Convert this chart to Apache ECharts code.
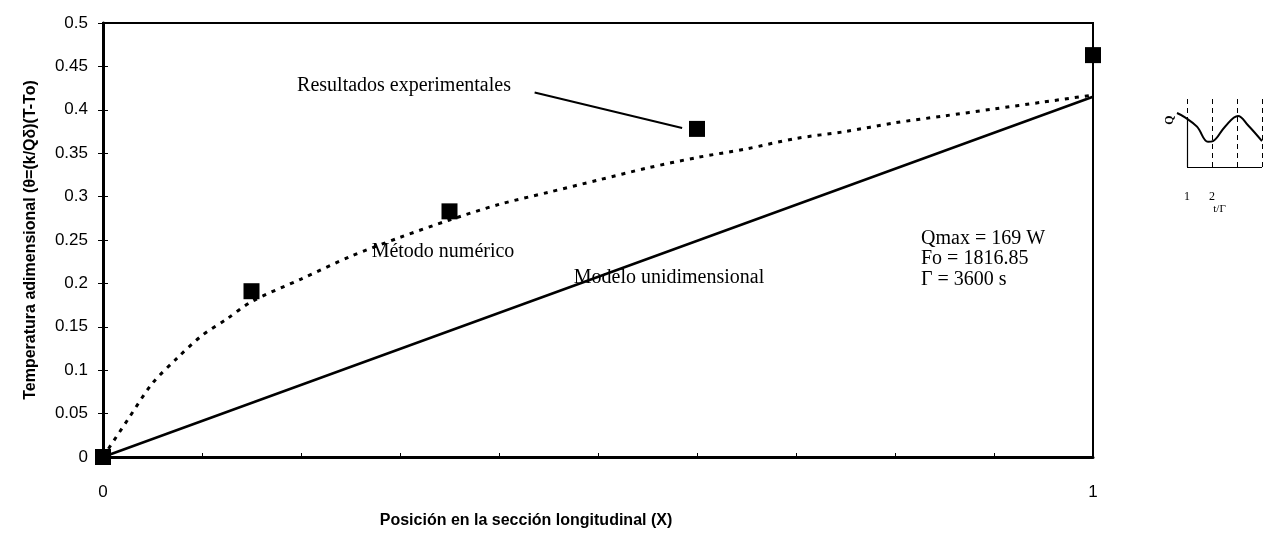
<!DOCTYPE html>
<html>
<head>
<meta charset="utf-8">
<script src="https://cdn.jsdelivr.net/npm/echarts@6.0.0/dist/echarts.min.js"></script>
<style>
  html, body { margin: 0; padding: 0; background: #fff; }
  #chart { width: 1272px; height: 544px; }
</style>
</head>
<body>
<div id="chart"></div>
<script>
// resultados experimentales (cuadrados)
var expX = [0, 0.15, 0.35, 0.6, 1.0];
var expY = [0, 0.191, 0.283, 0.378, 0.463];

// metodo numerico (curva punteada)
var numX = [0, 0.025, 0.05, 0.075, 0.1, 0.125, 0.15, 0.2, 0.25, 0.3, 0.35, 0.4,
  0.45, 0.5, 0.55, 0.6, 0.65, 0.7, 0.75, 0.8, 0.85, 0.9, 0.95, 1];
var numY = [0, 0.043, 0.085, 0.114, 0.14, 0.159, 0.179, 0.205, 0.231, 0.253, 0.273, 0.291,
  0.305, 0.319, 0.333, 0.345, 0.355, 0.367, 0.375, 0.385, 0.393, 0.401, 0.409, 0.417];

// modelo unidimensional (recta)
var uniX = [0, 1];
var uniY = [0, 0.415];

// linea indicadora de "Resultados experimentales"
var leaderX = [0.436, 0.585];
var leaderY = [0.42, 0.379];

// grafico pequeño Q(t/Γ)
var qT = [0.6, 0.92, 1.4, 1.84, 2.04, 2.52, 3.04, 3.44, 4.0];
var qV = [0.75, 0.69, 0.56, 0.35, 0.36, 0.56, 0.71, 0.58, 0.36];
var qLines = [1, 2, 3, 4];

var xTickLabels = ["0", "1"];

function zip(a, b) {
  return a.map(function (v, i) { return [v, b[i]]; });
}

var sans = "Liberation Sans, Arial, sans-serif";
var serif = "Liberation Serif, Times New Roman, serif";

var myChart = echarts.init(document.getElementById("chart"));

var solid = { type: "solid", width: 1.2 };

var option = {
  backgroundColor: "#fff",
  animation: false,
  grid: [
    { left: 103, right: 179, top: 23, bottom: 87, show: true, borderColor: "#000", borderWidth: 2, backgroundColor: "transparent" },
    { left: 1177, right: 10, top: 95, height: 72 }
  ],
  xAxis: [
    {
      type: "value", gridIndex: 0, min: 0, max: 1, interval: 0.1,
      axisLine: { lineStyle: { color: "#000", width: 3 } },
      axisTick: { inside: true, length: 4, lineStyle: { color: "#000" } },
      splitLine: { show: false },
      axisLabel: {
        margin: 27, fontSize: 17, color: "#000", fontFamily: sans,
        formatter: function (v) {
          if (Math.abs(v) < 1e-9) return xTickLabels[0];
          if (Math.abs(v - 1) < 1e-9) return xTickLabels[1];
          return "";
        }
      },
      name: "Posición en la sección longitudinal (X)",
      nameLocation: "middle", nameGap: 56,
      nameTextStyle: { fontSize: 16, fontWeight: "bold", color: "#000", fontFamily: sans, padding: [0, 144, 0, 0] }
    },
    {
      type: "value", gridIndex: 1, min: 0.6, max: 4,
      axisLine: { show: false },
      axisTick: { show: false },
      splitLine: { show: false },
      axisLabel: {
        customValues: [1, 2], margin: 24, fontSize: 12, color: "#000", fontFamily: serif
      },
      name: "t/Γ", nameLocation: "middle", nameGap: 37,
      nameTextStyle: { fontSize: 11, color: "#000", fontFamily: serif }
    }
  ],
  yAxis: [
    {
      type: "value", gridIndex: 0, min: 0, max: 0.5, interval: 0.05,
      axisLine: { lineStyle: { color: "#000", width: 3 } },
      axisTick: { length: 5, lineStyle: { color: "#000" } },
      splitLine: { show: false },
      axisLabel: { margin: 15, fontSize: 17, color: "#000", fontFamily: sans },
      name: "Temperatura adimensional (θ=(k/Qδ)(T-To)",
      nameLocation: "middle", nameGap: 64,
      nameTextStyle: { fontSize: 16, fontWeight: "bold", color: "#000", fontFamily: sans }
    },
    {
      // marcas interiores del eje y
      type: "value", gridIndex: 0, min: 0, max: 0.5, interval: 0.05, position: "left",
      axisLine: { show: false },
      axisTick: { inside: true, length: 5, lineStyle: { color: "#000" } },
      axisLabel: { show: false },
      splitLine: { show: false }
    },
    {
      type: "value", gridIndex: 1, min: 0, max: 1,
      axisLine: { show: false }, axisTick: { show: false },
      axisLabel: { show: false }, splitLine: { show: false },
      name: "Q", nameLocation: "middle", nameGap: 1, nameRotate: 90,
      nameTextStyle: { fontSize: 12, color: "#000", fontFamily: serif, fontWeight: "bold", padding: [0, 0, 0, 22] }
    }
  ],
  series: [
    {
      name: "Método numérico", type: "line", xAxisIndex: 0, yAxisIndex: 0,
      data: zip(numX, numY), symbol: "none", smooth: 0.3,
      lineStyle: { color: "#000", width: 3, type: [4, 6] }
    },
    {
      name: "Modelo unidimensional", type: "line", xAxisIndex: 0, yAxisIndex: 0,
      data: zip(uniX, uniY), symbol: "none",
      lineStyle: { color: "#000", width: 2.5 }
    },
    {
      name: "indicador", type: "line", xAxisIndex: 0, yAxisIndex: 0,
      data: zip(leaderX, leaderY), symbol: "none",
      lineStyle: { color: "#000", width: 2 }
    },
    {
      name: "Resultados experimentales", type: "scatter", xAxisIndex: 0, yAxisIndex: 0,
      data: zip(expX, expY), symbol: "rect", symbolSize: 16, z: 5,
      itemStyle: { color: "#000", opacity: 1 }, clip: false
    },
    {
      name: "Q", type: "line", xAxisIndex: 1, yAxisIndex: 2,
      data: zip(qT, qV), symbol: "none", smooth: 0.4,
      lineStyle: { color: "#000", width: 2 },
      markLine: {
        silent: true, symbol: "none", label: { show: false },
        lineStyle: { color: "#000", width: 1, type: [5, 4] },
        data: qLines.map(function (t) { return { xAxis: t }; }).concat([
          // eje horizontal y eje vertical del grafico pequeño
          [{ coord: [qLines[0], 0], lineStyle: solid }, { coord: [qLines[qLines.length - 1], 0] }],
          [{ coord: [qLines[0], 0], lineStyle: solid }, { coord: [qLines[0], 0.68] }]
        ])
      }
    }
  ],
  graphic: [
    { type: "text", style: { text: "Resultados experimentales", x: 404, y: 86, align: "center", verticalAlign: "middle", font: "20px " + serif, fill: "#000" } },
    { type: "text", style: { text: "Método numérico", x: 443, y: 252, align: "center", verticalAlign: "middle", font: "20px " + serif, fill: "#000" } },
    { type: "text", style: { text: "Modelo unidimensional", x: 669, y: 278, align: "center", verticalAlign: "middle", font: "20px " + serif, fill: "#000" } },
    { type: "text", style: { text: "Qmax = 169 W\nFo = 1816.85\nΓ = 3600 s", x: 921, y: 228, lineHeight: 20.5, align: "left", verticalAlign: "top", font: "20px " + serif, fill: "#000" } }
  ]
};

myChart.setOption(option);

window.addEventListener("resize", function () {
  myChart.resize();
});
</script>
</body>
</html>
